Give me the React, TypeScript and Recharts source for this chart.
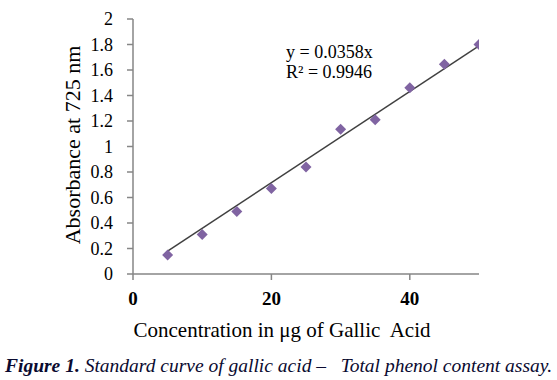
import React from 'react';
import { ComposedChart, Scatter, Line, XAxis, YAxis } from 'recharts';

const concentrations = [5, 10, 15, 20, 25, 30, 35, 40, 45, 50];
const absorbance = [0.15, 0.31, 0.49, 0.67, 0.84, 1.135, 1.21, 1.46, 1.645, 1.80];
const slope = 0.0358;
const trendX = [5, 50];
const yTicks = [0, 0.2, 0.4, 0.6, 0.8, 1, 1.2, 1.4, 1.6, 1.8, 2];
const xTicks = [0, 20, 40];

const points = concentrations.map((x, i) => ({ x, y: absorbance[i] }));
const trend = trendX.map((x) => ({ x, y: +(slope * x).toFixed(4) }));

const serif = '"Liberation Serif", "Times New Roman", serif';
const axisColor = '#868686';

const fmtY = (v: number) => String(v);

const Diamond = (props: any) => {
  const { cx, cy } = props;
  if (cx == null || cy == null) return null;
  const r = 5.5;
  return (
    <polygon
      points={`${cx},${cy - r} ${cx + r},${cy} ${cx},${cy + r} ${cx - r},${cy}`}
      fill="#8064A2"
    />
  );
};

export default function App() {
  return (
    <div style={{ position: 'absolute', left: 0, top: 0, width: 557, height: 380, background: '#fff', fontFamily: serif }}>
      <ComposedChart width={557} height={340} margin={{ top: 19, right: 78, left: 73, bottom: 26 }}>
        <XAxis
          type="number"
          dataKey="x"
          domain={[0, 50]}
          ticks={xTicks}
          tickSize={6}
          tickMargin={12}
          height={40}
          axisLine={{ stroke: axisColor, strokeWidth: 1.5 }}
          tickLine={{ stroke: axisColor, strokeWidth: 1.5 }}
          tick={{ fill: '#000', fontSize: 19, fontWeight: 'bold', fontFamily: serif }}
          allowDataOverflow
        />
        <YAxis
          type="number"
          dataKey="y"
          domain={[0, 2]}
          ticks={yTicks}
          tickFormatter={fmtY}
          width={60}
          tickSize={6}
          tickMargin={14}
          interval={0}
          axisLine={{ stroke: axisColor, strokeWidth: 1.5 }}
          tickLine={{ stroke: axisColor, strokeWidth: 1.5 }}
          tick={{ fill: '#000', fontSize: 18, fontFamily: serif }}
        />
        <Line data={trend} dataKey="y" stroke="#404040" strokeWidth={1.5} dot={false} isAnimationActive={false} />
        <Scatter data={points} dataKey="y" fill="#8064A2" shape={Diamond} isAnimationActive={false} />
      </ComposedChart>
      <div style={{ position: 'absolute', left: 286, top: 42, fontSize: 18, lineHeight: '20px', color: '#000', whiteSpace: 'nowrap' }}>
        <div>y = 0.0358x</div>
        <div>R² = 0.9946</div>
      </div>
      <div style={{ position: 'absolute', left: 73, top: 145, transform: 'translate(-50%, -50%) rotate(-90deg)', fontSize: 22, whiteSpace: 'nowrap', color: '#000' }}>
        Absorbance at 725 nm
      </div>
      <div style={{ position: 'absolute', left: 282, top: 330, transform: 'translate(-50%, -50%)', fontSize: 21, whiteSpace: 'pre', color: '#000' }}>
        {'Concentration in μg of Gallic  Acid'}
      </div>
      <div style={{ position: 'absolute', left: 5, top: 355, fontSize: 19.5, whiteSpace: 'pre', fontStyle: 'italic', color: '#0a0a30' }}>
        <b>Figure 1.</b>{' Standard curve of gallic acid –   Total phenol content assay.'}
      </div>
    </div>
  );
}
